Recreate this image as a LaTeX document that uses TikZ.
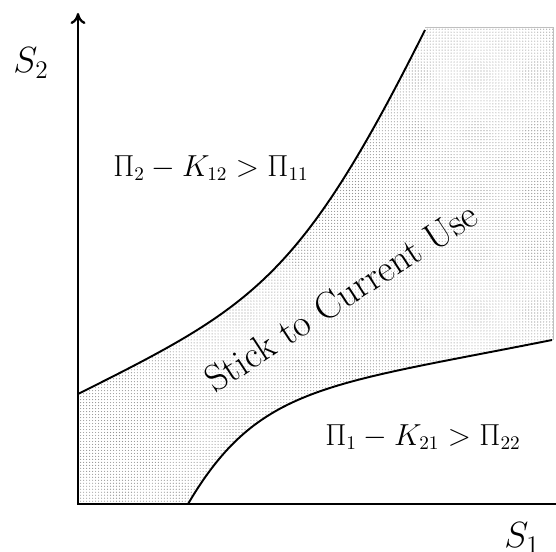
\documentclass[tikz,border=0pt]{standalone}
\usepackage{amsmath, amssymb}
\usepackage{tikz}
\usetikzlibrary{arrows.meta, patterns.meta}

\begin{document}
\begin{tikzpicture}[
  axis/.style={line width=1.3pt, line cap=rect},
  curve/.style={line width=1.1pt},
  region/.style={pattern={Dots[distance=1.7pt, radius=0.32pt]}, pattern color=gray!85},
  axislabel/.style={font=\fontsize{19.7}{24}\selectfont},
  condition/.style={font=\fontsize{16}{19}\selectfont},
  zonelabel/.style={font=\fontsize{21.7}{26}\selectfont, rotate=33},
]

\useasboundingbox (-1.56, -0.96) rectangle (9.56, 10.08);

\coordinate (origin) at (0, 0);
\coordinate (ytop) at (0, 9.82);
\coordinate (xend) at (9.56, 0);
\coordinate (lowstart) at (2.2, 0);
\coordinate (lowend) at (9.48, 3.28);
\coordinate (upstart) at (0, 2.2);
\coordinate (upend) at (6.94, 9.48);

\fill[region] (origin) -- (lowstart) .. controls (3.6, 2.38) and (4.98, 2.38) .. (lowend)
  -- (9.5, 3.28) -- (9.5, 9.54) -- (6.94, 9.54) -- (upend)
  .. controls (4.44, 4.48) and (3.5, 3.95) .. (upstart) -- cycle;
\draw[gray!50, line width=0.3pt] (6.94, 9.54) -- (9.5, 9.54) -- (9.5, 3.28);

\draw[curve] (upstart) .. controls (3.5, 3.95) and (4.44, 4.48) .. (upend);
\draw[curve] (lowstart) .. controls (3.6, 2.38) and (4.98, 2.38) .. (lowend);

\draw[axis, -{To[length=2.2mm, width=3mm]}] (origin) -- (ytop);
\draw[axis] (origin) -- (xend);

\node[axislabel] (s2) at (-0.94, 8.82) {$S_2$};
\node[axislabel] (s1) at (8.88, -0.68) {$S_1$};

\node[condition] (switch2) at (2.66, 6.72) {$\Pi_2 - K_{12} > \Pi_{11}$};
\node[condition] (switch1) at (6.9, 1.34) {$\Pi_1 - K_{21} > \Pi_{22}$};
\node[zonelabel] (stick) at (5.26, 4.14) {Stick to Current Use};

\end{tikzpicture}
\end{document}
